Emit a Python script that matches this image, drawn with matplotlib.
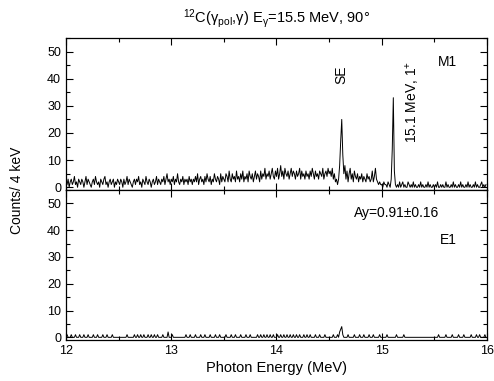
import numpy as np
import matplotlib
matplotlib.use('Agg')
import matplotlib.pyplot as plt
from matplotlib.ticker import MultipleLocator

plt.rcParams['font.family'] = ['Liberation Sans', 'DejaVu Sans']
plt.rcParams['mathtext.fontset'] = 'custom'
plt.rcParams['mathtext.rm'] = 'Liberation Sans'
plt.rcParams['mathtext.it'] = 'Liberation Sans'
plt.rcParams['mathtext.bf'] = 'Liberation Sans:bold'

# spectrum bins: 12.00 ... 15.99 MeV, 10 keV apart
e_start = 12.0
e_step = 0.01

# M1 spectrum (top panel), counts per bin, one row per 0.5 MeV
m1_counts = [
    2,1,3,0,2,3,1,2,4,1, 2,0,3,2,1,3,2,0,2,4, 1,3,2,1,0,2,3,1,4,2, 1,2,0,3,2,1,3,4,1,2, 0,2,3,1,2,3,0,2,1,3,
    2,1,3,2,0,3,1,2,4,1, 3,2,1,0,2,3,1,3,2,4, 1,2,0,3,2,1,4,2,1,3, 2,0,2,3,1,2,4,1,3,2, 1,3,2,4,1,3,5,2,3,1,
    3,2,4,1,3,2,5,2,1,3, 2,4,1,3,2,3,1,4,2,3, 1,3,2,4,2,5,1,3,4,2, 3,1,4,2,5,3,2,4,1,3, 2,5,3,2,4,3,1,5,2,4,
    3,2,5,4,2,6,3,2,5,3, 4,2,6,3,4,2,5,3,6,2, 4,3,5,2,6,4,3,5,2,4, 6,3,5,4,2,6,3,5,4,7, 3,5,4,6,3,5,7,4,3,6,
    4,7,3,5,8,4,6,3,7,5, 4,6,3,5,7,4,6,5,3,6, 4,5,7,3,6,4,5,3,6,4, 5,3,6,4,7,5,3,6,4,5, 3,6,5,4,7,3,5,6,4,7,
    5,6,4,7,3,5,2,3,1,3, 8,17,25,12,5,8,3,6,2,5, 7,3,5,2,6,4,3,5,2,4, 3,5,2,4,3,2,5,3,4,2, 3,6,2,4,7,3,2,1,2,1,
    1,0,2,1,1,0,2,1,0,3, 14,33,6,1,0,1,0,2,0,1, 2,0,1,0,0,2,1,0,1,0, 2,0,1,0,0,1,0,2,0,1, 0,0,1,0,2,0,1,0,0,1,
    0,1,0,2,0,0,1,0,1,0, 0,2,0,1,0,0,1,0,2,0, 1,0,0,1,0,2,0,1,0,0, 1,0,2,0,1,0,0,1,0,2, 0,1,0,0,1,2,0,1,0,1,
]

# E1 spectrum (bottom panel)
e1_counts = [
    0,1,0,0,0,1,0,0,0,1, 0,0,0,1,0,0,0,1,0,0, 0,1,0,0,0,0,1,0,0,0, 1,0,0,0,0,1,0,0,0,1, 0,0,0,0,1,0,0,0,0,0,
    0,0,0,0,0,0,0,0,1,0, 0,0,0,0,0,1,0,0,1,0, 0,1,0,0,1,0,0,0,1,0, 0,1,0,0,1,0,0,1,0,0, 0,0,1,0,0,0,0,2,0,0,
    0,1,0,0,0,0,0,0,0,0, 0,0,0,0,1,0,0,0,1,0, 0,0,0,1,0,0,0,0,1,0, 0,0,1,0,0,0,0,1,0,0, 0,0,1,0,0,0,1,0,0,0,
    0,0,1,0,0,0,0,1,0,0, 0,1,0,0,0,0,1,0,0,0, 0,1,0,0,0,1,0,0,0,0, 0,0,1,0,0,1,0,0,1,0, 0,1,0,0,1,0,0,1,0,0,
    0,1,0,0,1,0,0,1,0,0, 1,0,0,1,0,0,1,0,0,1, 0,0,1,0,0,0,1,0,0,1, 0,0,1,0,0,0,0,1,0,0, 0,1,0,0,0,0,1,0,0,0,
    0,0,0,0,1,0,0,0,1,0, 2,3,4,1,0,0,0,0,1,0, 0,0,0,0,1,0,0,0,0,1, 0,0,0,1,0,0,0,0,1,0, 0,0,1,0,0,0,0,0,1,0,
    0,0,0,0,0,1,0,0,0,0, 0,0,0,0,1,0,0,0,0,0, 0,1,0,0,0,0,0,0,0,0, 0,0,0,0,0,0,0,0,0,0, 0,0,0,0,0,0,0,0,0,0,
    0,0,0,0,1,0,0,0,0,0, 0,1,0,0,0,0,0,1,0,0, 0,0,0,1,0,0,0,0,1,0, 0,0,0,0,0,1,0,0,0,0, 1,0,0,1,0,0,0,0,1,0,
]

energy = e_start + e_step * np.arange(len(m1_counts))

fig = plt.figure(figsize=(4.94, 3.81), dpi=100)
ax_top = fig.add_axes([0.1336, 0.5013, 0.8522, 0.399])
ax_bot = fig.add_axes([0.1336, 0.1076, 0.8522, 0.3937])

for ax, counts in ((ax_top, m1_counts), (ax_bot, e1_counts)):
    ax.plot(energy, counts, color='black', lw=0.7)
    ax.set_xlim(12, 16)
    ax.set_ylim(-1, 55)
    ax.xaxis.set_major_locator(MultipleLocator(1))
    ax.xaxis.set_minor_locator(MultipleLocator(0.5))
    ax.yaxis.set_major_locator(MultipleLocator(10))
    ax.yaxis.set_minor_locator(MultipleLocator(5))
    ax.tick_params(which='both', direction='in', top=True, right=True, labelsize=9, width=0.8)
    ax.tick_params(which='major', length=5)
    ax.tick_params(which='minor', length=3)
    for s in ax.spines.values():
        s.set_linewidth(0.9)

ax_top.tick_params(labelbottom=False)

ax_top.text(14.62, 41.5, 'SE', rotation=90, ha='center', va='center', fontsize=10)
ax_top.text(15.29, 31.5, '15.1 MeV, 1$^{+}$', rotation=90, ha='center', va='center', fontsize=10)
ax_top.text(15.62, 46, 'M1', ha='center', va='center', fontsize=10)
ax_bot.text(15.145, 46.6, 'Ay=0.91±0.16', ha='center', va='center', fontsize=10)
ax_bot.text(15.63, 36.2, 'E1', ha='center', va='center', fontsize=10)

ax_top.set_title(r'$^{12}$C(γ$_{\mathrm{pol}}$,γ) E$_{\mathrm{γ}}$=15.5 MeV, 90°', fontsize=10.5, pad=11)
ax_bot.set_xlabel('Photon Energy (MeV)', fontsize=10.5, labelpad=3)
fig.text(0.034, 0.5, 'Counts/ 4 keV', rotation=90, ha='center', va='center', fontsize=10)

fig.savefig('out.png', dpi=100)
